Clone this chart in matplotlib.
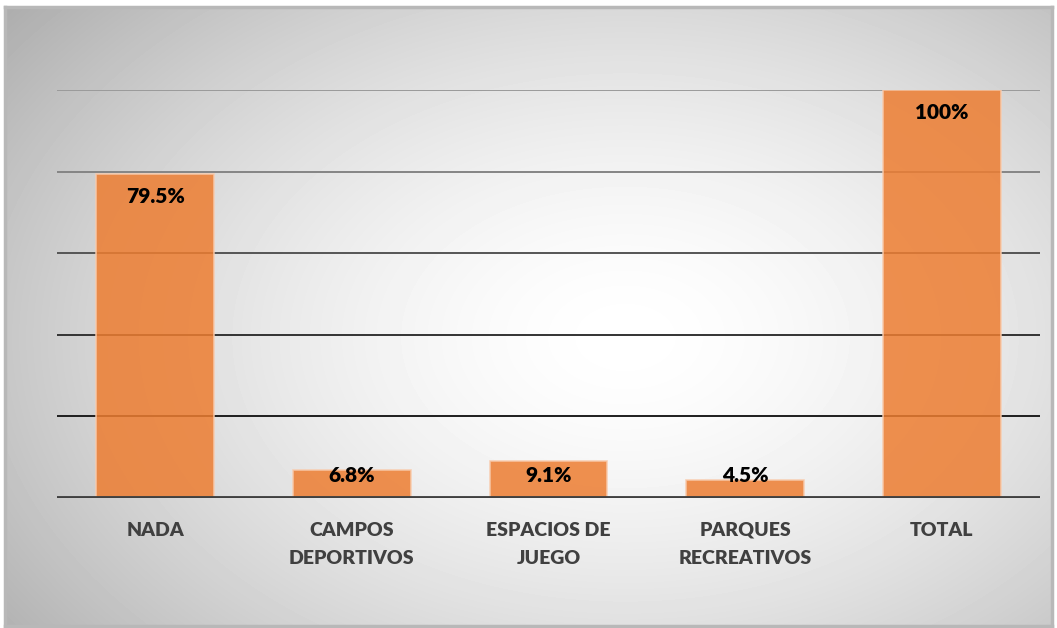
import numpy as np
import matplotlib.pyplot as plt

# Data
categories = ["NADA", "CAMPOS\nDEPORTIVOS", "ESPACIOS DE\nJUEGO", "PARQUES\nRECREATIVOS", "TOTAL"]
values = [79.5, 6.8, 9.1, 4.5, 100]
labels = ["79.5%", "6.8%", "9.1%", "4.5%", "100%"]
grid_levels = [20, 40, 60, 80, 100]
grid_colors = ["#1e1e1e", "#333333", "#555555", "#858585", "#9a9a9a"]

W, H = 1057, 628
fig = plt.figure(figsize=(W / 100, H / 100), dpi=100)
fig.patch.set_facecolor("white")

# Radial gradient background of the chart area
bg = fig.add_axes([5 / W, 2 / H, 1047 / W, 619 / H])
yy, xx = np.mgrid[0:619, 0:1047]
d = np.sqrt(((xx - 620) / 640.0) ** 2 + ((yy - 330) / 430.0) ** 2)
shade = 1.0 - 0.23 * np.clip(d, 0, 1.25) ** 1.6
bg.imshow(shade, cmap="gray", vmin=0, vmax=1, aspect="auto", interpolation="bilinear")
bg.set_xticks([])
bg.set_yticks([])
for s in bg.spines.values():
    s.set_color("#b8b8b8")
    s.set_linewidth(2.5)

# Plot area: x 57..1040 px, y 90 (100%) .. 498 (0%)
ax = fig.add_axes([57 / W, (H - 498) / H, 983 / W, 408 / H])
ax.patch.set_alpha(0)
ax.set_xlim(-0.5, len(categories) - 0.5)
ax.set_ylim(0, 100)

for lvl, c in zip(grid_levels, grid_colors):
    ax.axhline(lvl, color=c, linewidth=1.4, zorder=1)

x = np.arange(len(categories))
ax.bar(x, values, width=0.6, color="#ED7D31", alpha=0.85,
       edgecolor="#F8CBAD", linewidth=1.2, zorder=2)
ax.axhline(0, color="#404040", linewidth=3.5, zorder=4)

for xi, v, lab in zip(x, values, labels):
    if v > 20:
        ypos = v - 5.6
    else:
        ypos = 5.4
    ax.text(xi, ypos, lab, ha="center", va="center", fontsize=15,
            fontweight="heavy", family="Lato", color="black", zorder=5)

ax.set_xticks(x)
ax.set_xticklabels(categories, fontsize=14, fontweight="heavy", family="Lato",
                   color="#404040", linespacing=1.8)
ax.tick_params(axis="x", length=0, pad=17)
ax.set_yticks([])
for s in ax.spines.values():
    s.set_visible(False)

fig.savefig("out.png", dpi=100)
